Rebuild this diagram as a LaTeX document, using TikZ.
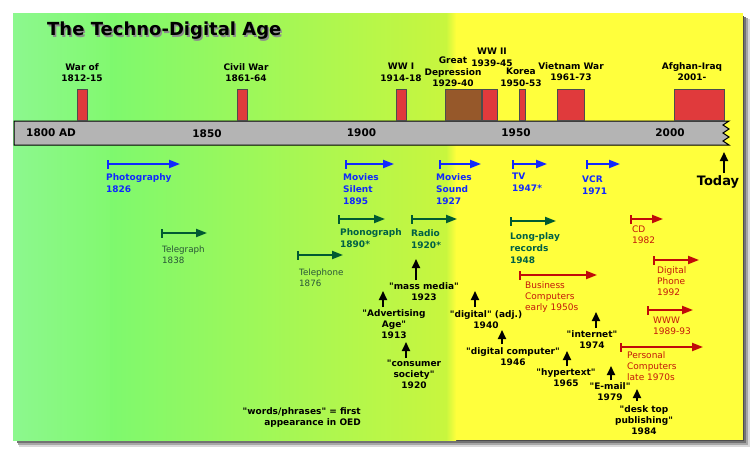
\documentclass[tikz,border=0pt]{standalone}
\usepackage{fontspec}
\setmainfont{DejaVu Sans}[Ligatures=TeXOff]
\usetikzlibrary{arrows.meta}
\definecolor{gA}{RGB}{140,248,142}
\definecolor{gB}{RGB}{130,249,112}
\definecolor{gC}{RGB}{126,249,110}
\definecolor{gD}{RGB}{200,246,62}
\definecolor{yel}{RGB}{255,255,60}
\definecolor{bargray}{RGB}{180,180,180}
\definecolor{warred}{RGB}{224,58,60}
\definecolor{brown}{RGB}{150,88,42}
\definecolor{iblue}{RGB}{16,40,255}
\definecolor{igreen}{RGB}{0,90,50}
\definecolor{igreentxt}{RGB}{0,96,70}
\definecolor{igray}{RGB}{40,85,55}
\definecolor{ired}{RGB}{192,10,10}
\definecolor{iredtxt}{RGB}{196,24,10}
\tikzset{
  warbar/.style={draw=black!70, line width=0.6pt, fill=warred, inner sep=0pt, anchor=south west},
  warlab/.style={inner sep=0pt, anchor=north, align=center, font=\bfseries\fontsize{9}{11.5}\selectfont},
  yearlab/.style={inner sep=0pt, font=\bfseries\fontsize{10.5}{12}\selectfont},
  lab/.style={inner sep=0pt, anchor=north west, align=left},
  bluelab/.style={lab, text=iblue, font=\bfseries\fontsize{9}{12}\selectfont},
  greenlab/.style={lab, text=igreentxt, font=\bfseries\fontsize{9}{12}\selectfont},
  graylab/.style={lab, text=igray, font=\fontsize{8.7}{11}\selectfont},
  redlab/.style={lab, text=iredtxt, font=\fontsize{9}{11}\selectfont},
  oedlab/.style={inner sep=0pt, anchor=north, align=center, font=\bfseries\fontsize{9}{11}\selectfont},
  innov/.style={line width=2pt, arrows={{Bar[width=9pt,line width=1.8pt]}-{Triangle[length=11pt,width=8pt]}}},
  uparrow/.style={line width=2pt, arrows={-{Triangle[length=9pt,width=8pt]}}}
}
\begin{document}
\begin{tikzpicture}[x=1pt,y=-1pt]
\useasboundingbox (0,0) rectangle (755,453);
% panel shadow
\fill[black!15] (19,19) rectangle (750,447);
\fill[black!35] (18,18) rectangle (748,445);
\fill[black!55] (17,17) rectangle (746,443);
\fill[black!70] (16,16) rectangle (744,441);
% background
\shade[left color=gA, right color=gB] (13,13) rectangle (110,440);
\shade[left color=gC, right color=gD] (110,13) rectangle (446,440);
\shade[left color=gD, right color=yel] (446,13) rectangle (456,440);
\fill[yel] (456,13) rectangle (743,440);
% title
\node[inner sep=0pt, anchor=north west, text=black!45, font=\bfseries\fontsize{18}{20}\selectfont] (titleshadow) at (48.5,23.5) {The Techno-Digital Age};
\node[inner sep=0pt, anchor=north west, font=\bfseries\fontsize{18}{20}\selectfont] (title) at (47,22) {The Techno-Digital Age};
% timeline bar
\draw[fill=bargray, line width=1pt] (14,121) -- (729,121) -- (723,125) -- (729,129) -- (723,133) -- (729,137) -- (723,141) -- (729,145) -- (14,145) -- cycle;
\node[yearlab, anchor=west] (y1800) at (26,133) {1800 AD};
\node[yearlab] (y1850) at (207,133.5) {1850};
\node[yearlab] (y1900) at (361.5,133) {1900};
\node[yearlab] (y1950) at (516,133) {1950};
\node[yearlab] (y2000) at (670,133) {2000};
% wars
\node[warbar, minimum width=10pt, minimum height=31pt] (b1812) at (77,121) {};
\node[warbar, minimum width=10pt, minimum height=31pt] (b1861) at (237,121) {};
\node[warbar, minimum width=10pt, minimum height=31pt] (b1914) at (396,121) {};
\node[warbar, fill=brown, minimum width=36pt, minimum height=31pt] (b1929) at (445,121) {};
\node[warbar, minimum width=15pt, minimum height=31pt] (b1939) at (482,121) {};
\node[warbar, minimum width=6pt, minimum height=31pt] (b1950) at (519,121) {};
\node[warbar, minimum width=27pt, minimum height=31pt] (b1961) at (557,121) {};
\node[warbar, minimum width=50pt, minimum height=31pt] (b2001) at (674,121) {};
\node[warlab] (l1812) at (82,63) {War of\\1812-15};
\node[warlab] (l1861) at (246,63) {Civil War\\1861-64};
\node[warlab] (l1914) at (401,63) {WW I\\1914-18};
\node[warlab, align=center] (l1929) at (453,57) {Great\\Depression\\1929-40};
\node[warlab] (l1939) at (492,48) {WW II\\1939-45};
\node[warlab] (l1950) at (521,68) {Korea\\1950-53};
\node[warlab] (l1961) at (571,62) {Vietnam War\\1961-73};
\node[warlab] (l2001) at (692,62) {Afghan-Iraq\\2001-};
% blue innovations
\coordinate (photoS) at (107,164); \coordinate (photoE) at (180,164);
\draw[innov, iblue] (photoS) -- (photoE);
\node[bluelab] (photo) at (106,173) {Photography\\1826};
\coordinate (silentS) at (345,164); \coordinate (silentE) at (394,164);
\draw[innov, iblue] (silentS) -- (silentE);
\node[bluelab] (silent) at (343,173) {Movies\\Silent\\1895};
\coordinate (soundS) at (439,164); \coordinate (soundE) at (481,164);
\draw[innov, iblue] (soundS) -- (soundE);
\node[bluelab] (sound) at (436,173) {Movies\\Sound\\1927};
\coordinate (tvS) at (512,164); \coordinate (tvE) at (547,164);
\draw[innov, iblue] (tvS) -- (tvE);
\node[bluelab] (tv) at (512,173) {TV\\1947*};
\coordinate (vcrS) at (586,164); \coordinate (vcrE) at (620,164);
\draw[innov, iblue] (vcrS) -- (vcrE);
\node[bluelab] (vcr) at (582,176) {VCR\\1971};
% today
\node[inner sep=0pt, anchor=north, font=\bfseries\fontsize{13}{15}\selectfont] (today) at (718,175) {Today};
\coordinate (todayE) at (724,152);
\draw[uparrow] (today.north -| todayE) ++(0,-2) -- (todayE);
% green innovations
\coordinate (tgS) at (161,233); \coordinate (tgE) at (207,233);
\draw[innov, igreen] (tgS) -- (tgE);
\node[graylab] (telegraph) at (162,246) {Telegraph\\1838};
\coordinate (phS) at (338,219); \coordinate (phE) at (385,219);
\draw[innov, igreen] (phS) -- (phE);
\node[greenlab] (phono) at (340,228) {Phonograph\\1890*};
\coordinate (tpS) at (297,255); \coordinate (tpE) at (343,255);
\draw[innov, igreen] (tpS) -- (tpE);
\node[graylab] (telephone) at (299,269) {Telephone\\1876};
\coordinate (raS) at (411,219); \coordinate (raE) at (457,219);
\draw[innov, igreen] (raS) -- (raE);
\node[greenlab] (radio) at (411,229) {Radio\\1920*};
\coordinate (lpS) at (510,221); \coordinate (lpE) at (556,221);
\draw[innov, igreen] (lpS) -- (lpE);
\node[greenlab] (lp) at (510,232) {Long-play\\records\\1948};
% red innovations
\coordinate (cdS) at (630,219); \coordinate (cdE) at (663,219);
\draw[innov, ired] (cdS) -- (cdE);
\node[redlab] (cd) at (632,226) {CD\\1982};
\coordinate (dpS) at (653,260); \coordinate (dpE) at (699,260);
\draw[innov, ired] (dpS) -- (dpE);
\node[redlab] (dphone) at (657,266) {Digital\\Phone\\1992};
\coordinate (bcS) at (519,275); \coordinate (bcE) at (597,275);
\draw[innov, ired] (bcS) -- (bcE);
\node[redlab] (bcomp) at (525,281) {Business\\Computers\\early 1950s};
\coordinate (wwwS) at (647,310); \coordinate (wwwE) at (693,310);
\draw[innov, ired] (wwwS) -- (wwwE);
\node[redlab] (www) at (653,317) {WWW\\1989-93};
\coordinate (pcS) at (620,347); \coordinate (pcE) at (703,347);
\draw[innov, ired] (pcS) -- (pcE);
\node[redlab] (pc) at (627,351) {Personal\\Computers\\late 1970s};
% OED words
\node[oedlab] (massmedia) at (424,282) {"mass media"\\1923};
\coordinate (mmS) at (416,280); \coordinate (mmE) at (416,259);
\draw[uparrow] (mmS) -- (mmE);
\node[oedlab] (advert) at (394,309) {"Advertising\\Age"\\1913};
\coordinate (adS) at (383,307); \coordinate (adE) at (383,291);
\draw[uparrow] (adS) -- (adE);
\node[oedlab] (consumer) at (414,360) {"consumer\\society"\\1920};
\coordinate (csS) at (406,358); \coordinate (csE) at (406,342);
\draw[uparrow] (csS) -- (csE);
\node[oedlab] (digadj) at (486,310) {"digital" (adj.)\\1940};
\coordinate (daS) at (475,307); \coordinate (daE) at (475,291);
\draw[uparrow] (daS) -- (daE);
\node[oedlab] (digcomp) at (513,347) {"digital computer"\\1946};
\coordinate (dcS) at (502,344); \coordinate (dcE) at (502,330);
\draw[uparrow] (dcS) -- (dcE);
\node[oedlab] (internet) at (592,330) {"internet"\\1974};
\coordinate (inS) at (596,328); \coordinate (inE) at (596,312);
\draw[uparrow] (inS) -- (inE);
\node[oedlab] (hyper) at (566,368) {"hypertext"\\1965};
\coordinate (hyS) at (567,366); \coordinate (hyE) at (567,351);
\draw[uparrow] (hyS) -- (hyE);
\node[oedlab] (email) at (610,382) {"E-mail"\\1979};
\coordinate (emS) at (611,380); \coordinate (emE) at (611,366);
\draw[uparrow] (emS) -- (emE);
\node[oedlab] (desktop) at (644,405) {"desk top\\publishing"\\1984};
\coordinate (dtS) at (637,401); \coordinate (dtE) at (637,389);
\draw[uparrow] (dtS) -- (dtE);
% footnote
\node[inner sep=0pt, anchor=north east, align=right, font=\bfseries\fontsize{9}{11}\selectfont] (note) at (361,407) {"words/phrases" = first\\appearance in OED};
\end{tikzpicture}
\end{document}
